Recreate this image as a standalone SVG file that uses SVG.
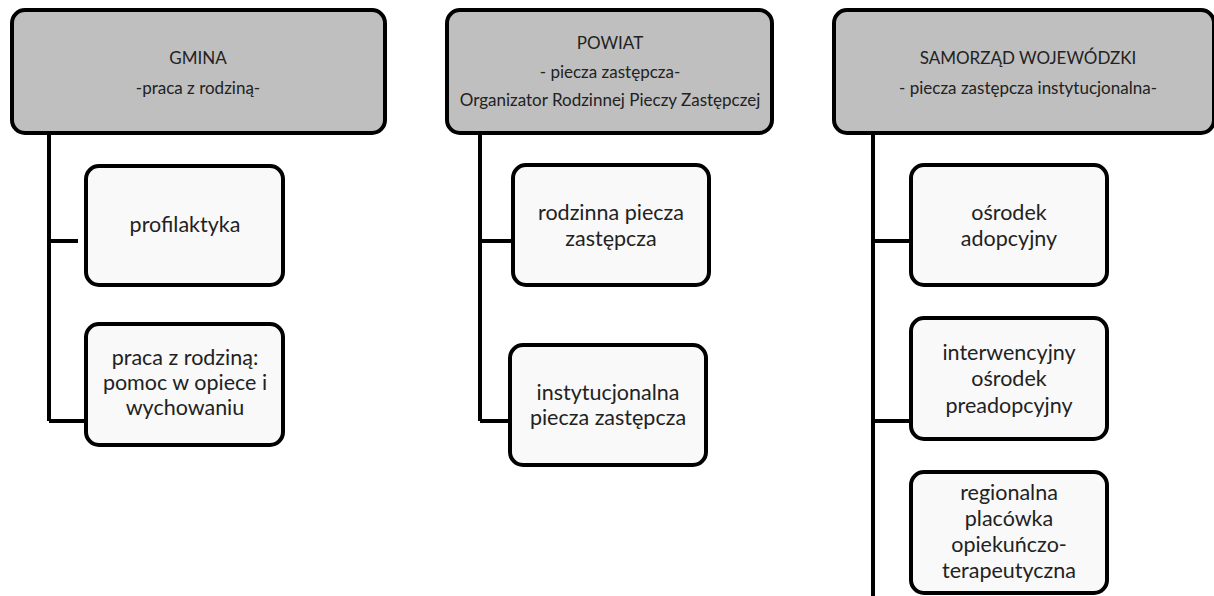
<svg xmlns="http://www.w3.org/2000/svg" width="1214" height="596" viewBox="0 0 1214 596">
<style>
.hdr{fill:#bfbfbf;stroke:#000;stroke-width:4}
.box{fill:#f9f9f9;stroke:#000;stroke-width:4}
.conn{fill:none;stroke:#000;stroke-width:4}
text{font-family:Lato,"Open Sans","Liberation Sans",sans-serif;fill:#222;text-anchor:middle}
.ht{font-size:17px}
.bt{font-size:21.5px}
</style>
<rect width="1214" height="596" fill="#fff"/>
<g id="connectors">
<path class="conn" d="M49,135 V421 M49,241 H78 M49,421 H86"/>
<path class="conn" d="M480,135 V421 M480,241 H511 M480,421 H508"/>
<path class="conn" d="M873,135 V596 M873,241 H909 M873,421 H909"/>
</g>
<g id="gmina">
<rect class="hdr" x="12" y="10" width="373" height="123" rx="13"/>
<text class="ht" x="198" y="64">GMINA</text>
<text class="ht" x="198" y="94">-praca z rodziną-</text>
</g>
<g id="profilaktyka">
<rect class="box" x="86" y="166" width="197" height="119" rx="13"/>
<text class="bt" x="185" y="232">profilaktyka</text>
</g>
<g id="praca">
<rect class="box" x="86" y="324" width="197" height="121" rx="13"/>
<text class="bt" x="185" y="365">praca z rodziną:</text>
<text class="bt" x="185" y="390">pomoc w opiece i</text>
<text class="bt" x="185" y="415">wychowaniu</text>
</g>
<g id="powiat">
<rect class="hdr" x="447" y="10" width="325" height="123" rx="13"/>
<text class="ht" x="610" y="49">POWIAT</text>
<text class="ht" x="610" y="78">- piecza zastępcza-</text>
<text class="ht" x="610" y="106">Organizator Rodzinnej Pieczy Zastępczej</text>
</g>
<g id="rodzinna">
<rect class="box" x="513" y="165" width="196" height="120" rx="13"/>
<text class="bt" x="611" y="220">rodzinna piecza</text>
<text class="bt" x="611" y="246">zastępcza</text>
</g>
<g id="instytucjonalna">
<rect class="box" x="510" y="345" width="196" height="120" rx="13"/>
<text class="bt" x="608" y="400">instytucjonalna</text>
<text class="bt" x="608" y="425">piecza zastępcza</text>
</g>
<g id="samorzad">
<rect class="hdr" x="834" y="10" width="380" height="123" rx="13"/>
<text class="ht" x="1028" y="64">SAMORZĄD WOJEWÓDZKI</text>
<text class="ht" x="1028" y="94">- piecza zastępcza instytucjonalna-</text>
</g>
<g id="osrodek">
<rect class="box" x="911" y="165" width="196" height="120" rx="13"/>
<text class="bt" x="1009" y="220">ośrodek</text>
<text class="bt" x="1009" y="246">adopcyjny</text>
</g>
<g id="interwencyjny">
<rect class="box" x="911" y="318" width="196" height="121" rx="13"/>
<text class="bt" x="1009" y="360">interwencyjny</text>
<text class="bt" x="1009" y="386">ośrodek</text>
<text class="bt" x="1009" y="413">preadopcyjny</text>
</g>
<g id="regionalna">
<rect class="box" x="911" y="472" width="196" height="121" rx="13"/>
<text class="bt" x="1009" y="500">regionalna</text>
<text class="bt" x="1009" y="526">placówka</text>
<text class="bt" x="1009" y="552">opiekuńczo-</text>
<text class="bt" x="1009" y="578">terapeutyczna</text>
</g>
</svg>
